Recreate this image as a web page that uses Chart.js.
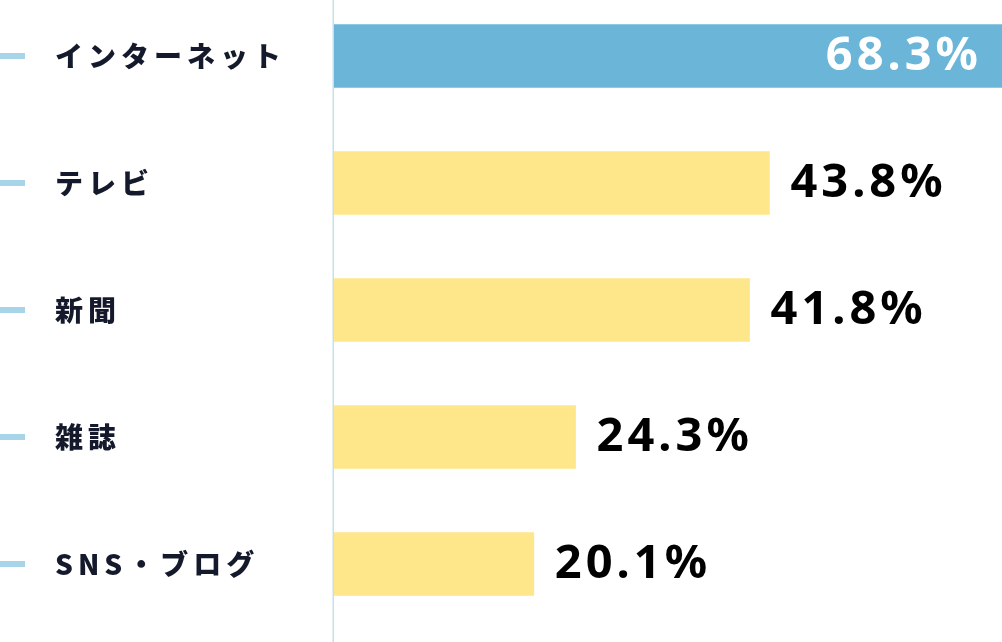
<!DOCTYPE html>
<html lang="ja">
<head>
<meta charset="utf-8">
<script src="https://cdn.jsdelivr.net/npm/chart.js@4/dist/chart.umd.min.js"></script>
<style>
  html, body { margin: 0; padding: 0; background: #fff; }
  #wrap { width: 1002px; height: 642px; position: relative; }
</style>
</head>
<body>
<div id="wrap"><canvas id="mediaChart"></canvas></div>
<script>
// data
var categories = ["インターネット", "テレビ", "新聞", "雑誌", "SNS・ブログ"];
var values = [68.3, 43.8, 41.8, 24.3, 20.1];
var barColors = ["#6bb5d8", "#fee68a", "#fee68a", "#fee68a", "#fee68a"];

// small blue dash left of each label + axis line over full height
var decorations = {
  id: "decorations",
  beforeDraw: function (chart) {
    chart.ctx.letterSpacing = "5px";
  },
  afterDraw: function (chart) {
    var ctx = chart.ctx;
    var yScale = chart.scales.y;
    ctx.save();
    ctx.letterSpacing = "0px";
    ctx.fillStyle = "#a8d4ea";
    yScale.ticks.forEach(function (t, i) {
      var y = yScale.getPixelForTick(i);
      ctx.fillRect(0, y - 3, 25, 6);
    });
    ctx.fillStyle = "#c5e0ec";
    ctx.fillRect(chart.chartArea.left - 1.5, 0, 1.5, chart.height);
    ctx.restore();
  },
};

// percentage labels at bar ends
var valueLabels = {
  id: "valueLabels",
  afterDatasetsDraw: function (chart) {
    var ctx = chart.ctx;
    var meta = chart.getDatasetMeta(0);
    ctx.save();
    ctx.letterSpacing = "4px";
    ctx.font = "bold 47px 'Noto Sans', sans-serif";
    ctx.textBaseline = "middle";
    meta.data.forEach(function (bar, i) {
      var text = values[i].toFixed(1) + "%";
      if (bar.x >= chart.chartArea.right) {
        ctx.fillStyle = "#ffffff";
        ctx.textAlign = "right";
        ctx.fillText(text, chart.chartArea.right - 20, bar.y + 1);
      } else {
        ctx.fillStyle = "#000000";
        ctx.textAlign = "left";
        ctx.fillText(text, bar.x + 21, bar.y + 1);
      }
    });
    ctx.restore();
  },
};

var ctx = document.getElementById("mediaChart").getContext("2d");
var mediaChart = new Chart(ctx, {
  type: "bar",
  data: {
    labels: categories,
    datasets: [
      {
        data: values,
        backgroundColor: barColors,
        borderWidth: 0,
        barThickness: 63,
        clip: false,
      },
    ],
  },
  options: {
    indexAxis: "y",
    responsive: true,
    maintainAspectRatio: false,
    animation: false,
    layout: {
      padding: { left: 55, top: 56, bottom: 78, right: 0 },
    },
    plugins: {
      legend: { display: false },
      tooltip: { enabled: false },
    },
    scales: {
      x: {
        display: false,
        min: 0,
        max: 67.2,
      },
      y: {
        offset: false,
        grid: { display: false, drawTicks: false },
        border: { display: false },
        afterFit: function (scale) {
          scale.width = 279;
        },
        ticks: {
          crossAlign: "far",
          padding: 0,
          color: "#141a2c",
          font: { family: "'Noto Sans CJK JP', sans-serif", size: 28, weight: 900 },
        },
      },
    },
  },
  plugins: [decorations, valueLabels],
});
</script>
</body>
</html>
